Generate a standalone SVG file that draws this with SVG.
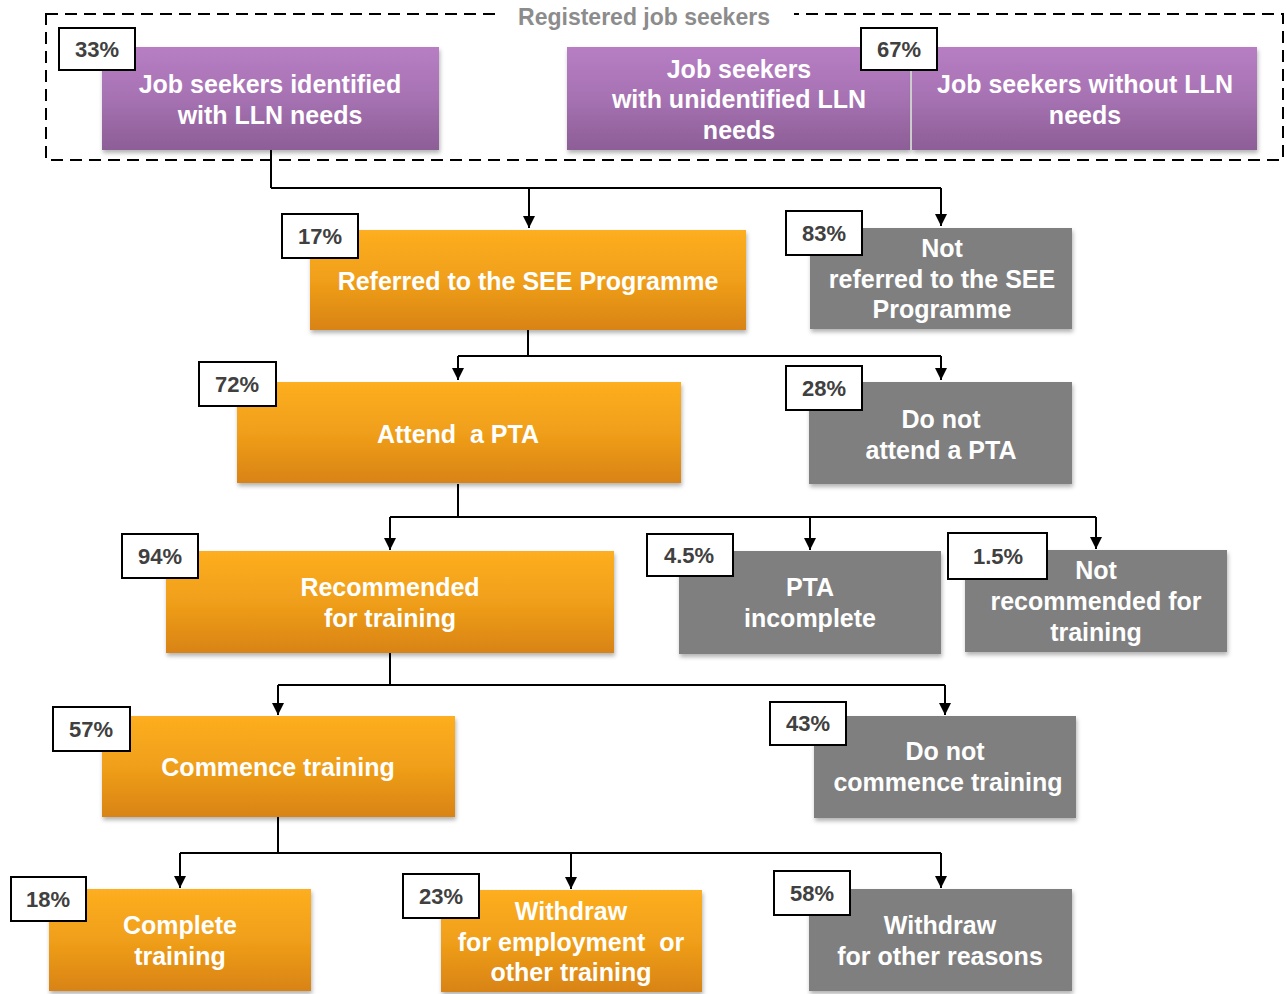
<svg xmlns="http://www.w3.org/2000/svg" width="1287" height="994" viewBox="0 0 1287 994">
<style>
.t{font-family:"Liberation Sans",Arial,sans-serif;font-weight:bold;font-size:25px;fill:#fff;text-anchor:middle}
.p{font-family:"Liberation Sans",Arial,sans-serif;font-weight:bold;font-size:22px;fill:#404040;text-anchor:middle}
.lb{fill:#fff;stroke:#000;stroke-width:2}
.c{fill:none;stroke:#000;stroke-width:2}
.or{fill:url(#go)}
.pu{fill:url(#gp)}
.gr{fill:#7f7f7f}
.pre{white-space:pre}
</style>
<defs>
<linearGradient id="go" x1="0" y1="0" x2="0" y2="1"><stop offset="0" stop-color="#fdae20"/><stop offset="0.5" stop-color="#f09f1a"/><stop offset="1" stop-color="#d88312"/></linearGradient>
<linearGradient id="gp" x1="0" y1="0" x2="0" y2="1"><stop offset="0" stop-color="#b77ec4"/><stop offset="0.5" stop-color="#a672b2"/><stop offset="1" stop-color="#8c5e96"/></linearGradient>
<filter id="sh" x="-10%" y="-10%" width="120%" height="130%"><feDropShadow dx="1" dy="3" stdDeviation="2" flood-color="#000" flood-opacity="0.3"/></filter>
<marker id="ar" markerWidth="12" markerHeight="12" viewBox="0 0 12 12" refX="12" refY="6" orient="auto" markerUnits="userSpaceOnUse"><path d="M0,0 L12,6 L0,12 z" fill="#000"/></marker>
</defs>

<g id="group-registered">
<rect x="46" y="14" width="1237" height="146" fill="none" stroke="#000" stroke-width="2" stroke-dasharray="12,7"/>
<rect x="498" y="4" width="296" height="24" fill="#fff"/>
<text x="644" y="25" font-family="'Liberation Sans',Arial,sans-serif" font-weight="bold" font-size="23" fill="#8c8c8c" text-anchor="middle">Registered job seekers</text>
</g>

<g id="connectors">
<path class="c" d="M271,150 V188"/>
<path class="c" d="M271,188 H941"/>
<path class="c" d="M529,188 V228" marker-end="url(#ar)"/>
<path class="c" d="M941,188 V226" marker-end="url(#ar)"/>
<path class="c" d="M528,330 V356"/>
<path class="c" d="M458,356 H941"/>
<path class="c" d="M458,356 V380" marker-end="url(#ar)"/>
<path class="c" d="M941,356 V380" marker-end="url(#ar)"/>
<path class="c" d="M458,484 V517"/>
<path class="c" d="M390,517 H1096"/>
<path class="c" d="M390,517 V550" marker-end="url(#ar)"/>
<path class="c" d="M810,517 V550" marker-end="url(#ar)"/>
<path class="c" d="M1096,517 V549" marker-end="url(#ar)"/>
<path class="c" d="M390,653 V685"/>
<path class="c" d="M278,685 H945"/>
<path class="c" d="M278,685 V715" marker-end="url(#ar)"/>
<path class="c" d="M945,685 V715" marker-end="url(#ar)"/>
<path class="c" d="M278,817 V853"/>
<path class="c" d="M180,853 H941"/>
<path class="c" d="M180,853 V888" marker-end="url(#ar)"/>
<path class="c" d="M571,853 V889" marker-end="url(#ar)"/>
<path class="c" d="M941,853 V888" marker-end="url(#ar)"/>
</g>

<g id="n-identified">
<rect class="pu" x="102" y="47" width="337" height="103" filter="url(#sh)"/>
<text class="t"><tspan x="270" y="93">Job seekers identified</tspan><tspan x="270" y="124">with LLN needs</tspan></text>
<rect class="lb" x="59" y="28" width="76" height="42"/><text class="p" x="97" y="57">33%</text>
</g>

<g id="n-unidentified">
<rect class="pu" x="567" y="47" width="343" height="103" filter="url(#sh)"/>
<text class="t"><tspan x="739" y="78">Job seekers</tspan><tspan x="739" y="108">with unidentified LLN</tspan><tspan x="739" y="139">needs</tspan></text>
</g>

<g id="n-without">
<rect class="pu" x="912" y="47" width="345" height="103" filter="url(#sh)"/>
<text class="t"><tspan x="1085" y="93">Job seekers without LLN</tspan><tspan x="1085" y="124">needs</tspan></text>
<rect class="lb" x="861" y="28" width="76" height="42"/><text class="p" x="899" y="57">67%</text>
</g>

<g id="n-referred">
<rect class="or" x="310" y="230" width="436" height="100" filter="url(#sh)"/>
<text class="t" x="528" y="290">Referred to the SEE Programme</text>
<rect class="lb" x="282" y="214" width="76" height="44"/><text class="p" x="320" y="244">17%</text>
</g>

<g id="n-notreferred">
<rect class="gr" x="810" y="228" width="262" height="101" filter="url(#sh)"/>
<text class="t"><tspan x="942" y="257">Not</tspan><tspan x="942" y="288">referred to the SEE</tspan><tspan x="942" y="318">Programme</tspan></text>
<rect class="lb" x="786" y="211" width="76" height="44"/><text class="p" x="824" y="241">83%</text>
</g>

<g id="n-attend">
<rect class="or" x="237" y="382" width="444" height="101" filter="url(#sh)"/>
<text class="t pre" x="458" y="443">Attend  a PTA</text>
<rect class="lb" x="199" y="362" width="77" height="44"/><text class="p" x="237" y="392">72%</text>
</g>

<g id="n-notattend">
<rect class="gr" x="809" y="382" width="263" height="102" filter="url(#sh)"/>
<text class="t"><tspan x="941" y="428">Do not</tspan><tspan x="941" y="459">attend a PTA</tspan></text>
<rect class="lb" x="786" y="366" width="76" height="44"/><text class="p" x="824" y="396">28%</text>
</g>

<g id="n-recommended">
<rect class="or" x="166" y="551" width="448" height="102" filter="url(#sh)"/>
<text class="t"><tspan x="390" y="596">Recommended</tspan><tspan x="390" y="627">for training</tspan></text>
<rect class="lb" x="122" y="534" width="76" height="44"/><text class="p" x="160" y="564">94%</text>
</g>

<g id="n-incomplete">
<rect class="gr" x="679" y="551" width="262" height="103" filter="url(#sh)"/>
<text class="t"><tspan x="810" y="596">PTA</tspan><tspan x="810" y="627">incomplete</tspan></text>
<rect class="lb" x="647" y="534" width="86" height="42"/><text class="p" x="689" y="563">4.5%</text>
</g>

<g id="n-notrecommended">
<rect class="gr" x="965" y="550" width="262" height="102" filter="url(#sh)"/>
<text class="t"><tspan x="1096" y="579">Not</tspan><tspan x="1096" y="610">recommended for</tspan><tspan x="1096" y="641">training</tspan></text>
<rect class="lb" x="948" y="533" width="99" height="46"/><text class="p" x="998" y="564">1.5%</text>
</g>

<g id="n-commence">
<rect class="or" x="102" y="716" width="353" height="101" filter="url(#sh)"/>
<text class="t" x="278" y="776">Commence training</text>
<rect class="lb" x="53" y="707" width="77" height="44"/><text class="p" x="91" y="737">57%</text>
</g>

<g id="n-notcommence">
<rect class="gr" x="814" y="716" width="262" height="102" filter="url(#sh)"/>
<text class="t"><tspan x="945" y="760">Do not</tspan><tspan x="948" y="791">commence training</tspan></text>
<rect class="lb" x="770" y="702" width="76" height="43"/><text class="p" x="808" y="731">43%</text>
</g>

<g id="n-complete">
<rect class="or" x="49" y="889" width="262" height="102" filter="url(#sh)"/>
<text class="t"><tspan x="180" y="934">Complete</tspan><tspan x="180" y="965">training</tspan></text>
<rect class="lb" x="11" y="877" width="75" height="44"/><text class="p" x="48" y="907">18%</text>
</g>

<g id="n-withdrawemp">
<rect class="or" x="441" y="890" width="261" height="102" filter="url(#sh)"/>
<text class="t pre"><tspan x="571" y="920">Withdraw</tspan><tspan x="571" y="951">for employment  or</tspan><tspan x="571" y="981">other training</tspan></text>
<rect class="lb" x="403" y="874" width="76" height="44"/><text class="p" x="441" y="904">23%</text>
</g>

<g id="n-withdrawother">
<rect class="gr" x="809" y="889" width="263" height="102" filter="url(#sh)"/>
<text class="t"><tspan x="940" y="934">Withdraw</tspan><tspan x="940" y="965">for other reasons</tspan></text>
<rect class="lb" x="774" y="871" width="76" height="44"/><text class="p" x="812" y="901">58%</text>
</g>
</svg>
